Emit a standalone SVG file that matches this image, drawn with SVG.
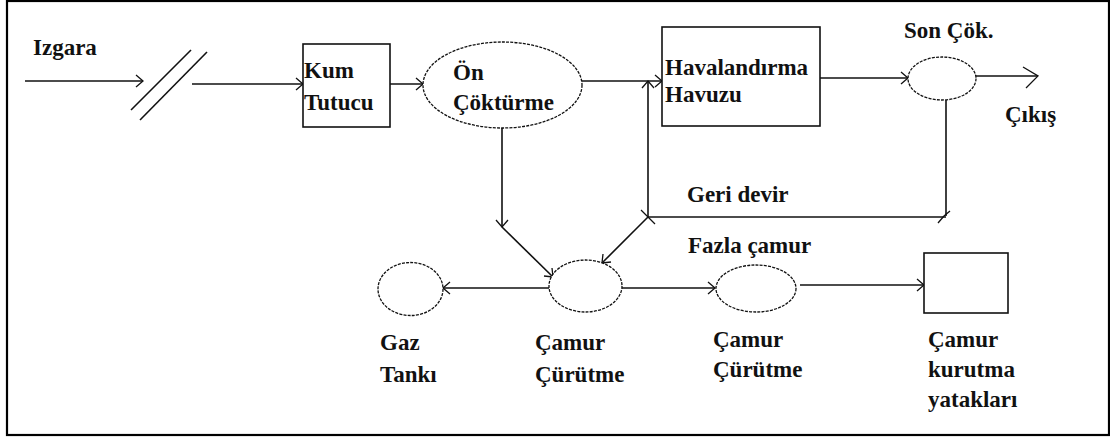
<svg xmlns="http://www.w3.org/2000/svg" width="1110" height="439" viewBox="0 0 1110 439">
<style>
text{font-family:'Liberation Serif','DejaVu Serif',serif;font-weight:700;font-size:23px;fill:#111}
.ln{stroke:#111;stroke-width:1.6;fill:none}
.ah{stroke:#111;stroke-width:1.3;fill:none}
.ell{stroke:#111;stroke-width:1.3;fill:#fff;stroke-dasharray:3 1.2}
.box{stroke:#111;stroke-width:1.6;fill:#fff}
</style>
<rect x="0" y="0" width="1110" height="439" fill="#fff"/>
<rect x="7" y="1" width="1102" height="434" fill="none" stroke="#000" stroke-width="2.2"/>
<g id="connectors">
<line class="ln" x1="25" y1="81" x2="143" y2="81"/>
<path class="ah" d="M136,75 L143,81 L136,87"/>
<line class="ln" x1="131" y1="110" x2="191" y2="50"/>
<line class="ln" x1="140" y1="120" x2="207" y2="52"/>
<line class="ln" x1="192" y1="84" x2="303" y2="84"/>
<path class="ah" d="M296,78 L303,84 L296,90"/>
<line class="ln" x1="390" y1="84" x2="423" y2="84"/>
<path class="ah" d="M416,78 L423,84 L416,90"/>
<line class="ln" x1="582" y1="81" x2="662" y2="81"/>
<path class="ah" d="M655,75 L662,81 L655,87"/>
<line class="ln" x1="648" y1="217" x2="648" y2="81"/>
<path class="ah" d="M642,88 L648,81 L654,88"/>
<line class="ln" x1="820" y1="78" x2="908" y2="78"/>
<path class="ah" d="M901,72 L908,78 L901,84"/>
<line class="ln" x1="976" y1="76" x2="1038" y2="76"/>
<path class="ah" d="M1023,67 L1038,76 L1026,88"/>
<line class="ln" x1="946" y1="100" x2="946" y2="216"/>
<line class="ln" x1="946" y1="217" x2="648" y2="217"/>
<path class="ah" d="M938,223 L944,216 L950,211"/>
<path class="ah" d="M641,210 L655,224"/>
<line class="ln" x1="648" y1="217" x2="602" y2="263"/>
<path class="ah" d="M603,254 L602,263 L611,262"/>
<line class="ln" x1="502" y1="128" x2="502" y2="227"/>
<path class="ah" d="M496,220 L502,227 L508,220"/>
<line class="ln" x1="502" y1="227" x2="553" y2="277"/>
<path class="ah" d="M544,276 L553,277 L552,268"/>
<line class="ln" x1="549" y1="288" x2="443" y2="288"/>
<path class="ah" d="M450,282 L443,288 L450,294"/>
<line class="ln" x1="622" y1="288" x2="715" y2="288"/>
<path class="ah" d="M708,282 L715,288 L708,294"/>
<line class="ln" x1="800" y1="285" x2="924" y2="285"/>
<path class="ah" d="M917,279 L924,285 L917,291"/>
</g>
<g id="izgara"><text x="33" y="55">Izgara</text></g>
<g id="kum"><rect class="box" x="303" y="44" width="87" height="83"/><text x="304" y="78">Kum</text><text x="304" y="110">Tutucu</text></g>
<g id="on"><ellipse class="ell" cx="502.5" cy="85" rx="79.5" ry="43"/><text x="453" y="80">Ön</text><text x="453" y="110">Çöktürme</text></g>
<g id="havalandirma"><rect class="box" x="662" y="27" width="158" height="99"/><text x="665" y="75">Havalandırma</text><text x="665" y="102">Havuzu</text></g>
<g id="son"><ellipse class="ell" cx="942" cy="78.5" rx="34" ry="21.5"/><text x="904" y="38">Son Çök.</text></g>
<g id="cikis"><text x="1005" y="122">Çıkış</text></g>
<g id="geri"><text x="687" y="202">Geri devir</text></g>
<g id="fazla"><text x="688" y="253">Fazla çamur</text></g>
<g id="gaz"><ellipse class="ell" cx="410.5" cy="289" rx="32.5" ry="26.5"/><text x="380" y="350">Gaz</text><text x="380" y="382">Tankı</text></g>
<g id="camur1"><ellipse class="ell" cx="585.5" cy="286" rx="36.5" ry="26"/><text x="535" y="350">Çamur</text><text x="535" y="382">Çürütme</text></g>
<g id="camur2"><ellipse class="ell" cx="756" cy="288.5" rx="40" ry="23.5"/><text x="713" y="347">Çamur</text><text x="713" y="377">Çürütme</text></g>
<g id="kurutma"><rect class="box" x="924" y="253" width="84" height="60"/><text x="928" y="347">Çamur</text><text x="928" y="377">kurutma</text><text x="928" y="407">yatakları</text></g>
</svg>
